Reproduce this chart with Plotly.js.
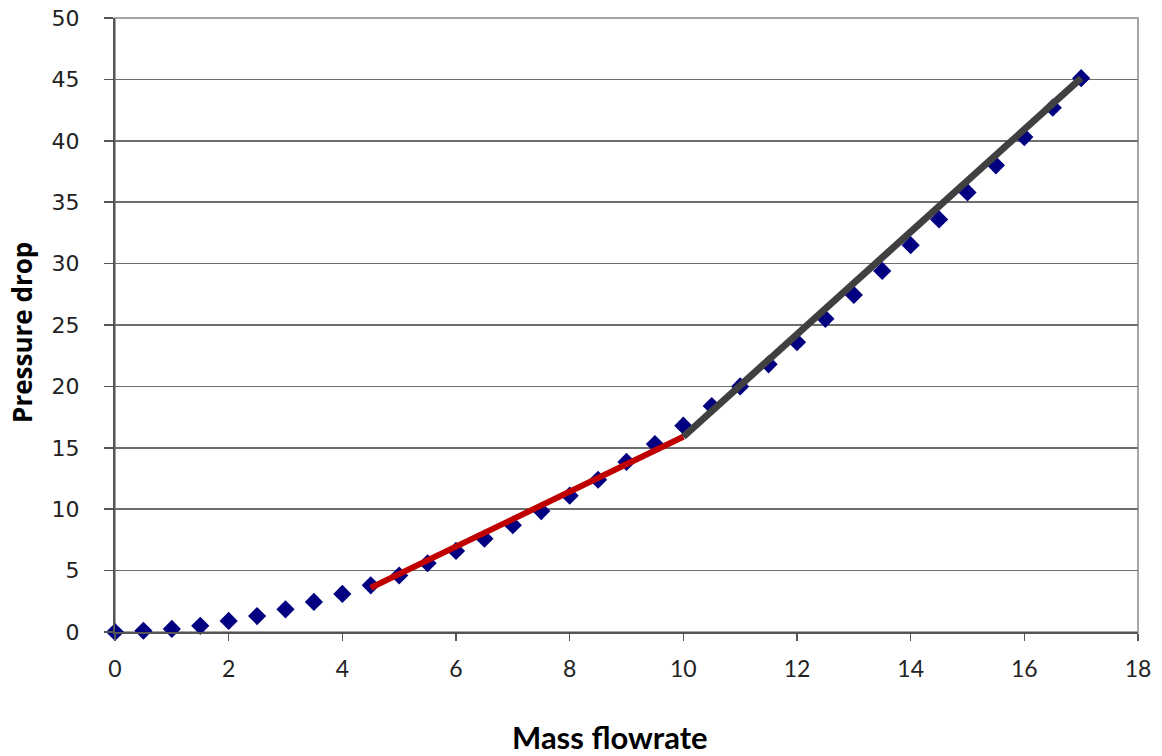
<!DOCTYPE html>
<html>
<head>
<meta charset="utf-8">
<script src="https://cdn.plot.ly/plotly-3.0.1.min.js"></script>
<style>html,body{margin:0;padding:0;background:#fff;}#chart{width:1162px;height:756px;}</style>
</head>
<body>
<div id="chart"></div>
<script>
const massFlow = [0,0.5,1,1.5,2,2.5,3,3.5,4,4.5,5,5.5,6,6.5,7,7.5,8,8.5,9,9.5,10,10.5,11,11.5,12,12.5,13,13.5,14,14.5,15,15.5,16,16.5,17];
const pressureDrop = [0,0.1,0.25,0.5,0.9,1.3,1.85,2.45,3.1,3.8,4.6,5.6,6.6,7.6,8.7,9.85,11.1,12.4,13.85,15.3,16.8,18.4,20.0,21.8,23.6,25.5,27.45,29.4,31.5,33.6,35.8,38.0,40.3,42.7,45.1];
const fitLowX = [4.5, 10];
const fitLowY = [3.6, 15.9];
const fitHighX = [10, 17];
const fitHighY = [15.9, 45.1];
const xTicks = [0,2,4,6,8,10,12,14,16,18];
const yTicks = [0,5,10,15,20,25,30,35,40,45,50];
const xTitle = 'Mass flowrate';
const yTitle = 'Pressure drop';

const traces = [
  {x: massFlow, y: pressureDrop, type: 'scatter', mode: 'markers',
   marker: {symbol: 'diamond', size: 14, color: '#000080'}, cliponaxis: false, showlegend: false},
  {x: fitLowX, y: fitLowY, type: 'scatter', mode: 'lines',
   line: {color: '#C00000', width: 6}, showlegend: false},
  {x: fitHighX, y: fitHighY, type: 'scatter', mode: 'lines',
   line: {color: '#404040', width: 7}, showlegend: false}
];

const layout = {
  width: 1162, height: 756,
  margin: {l: 115, r: 24, t: 18, b: 124},
  paper_bgcolor: '#fff', plot_bgcolor: '#fff',
  xaxis: {
    range: [0, 18], tickvals: xTicks, ticktext: xTicks.map(String),
    showgrid: false, zeroline: false, showline: true, linecolor: '#555', linewidth: 2,
    ticks: 'outside', ticklen: 7, tickcolor: '#555', tickwidth: 1.5,
    ticklabelstandoff: 8,
    tickfont: {family: 'Lato, sans-serif', size: 23, color: '#222'}
  },
  yaxis: {
    range: [0, 50], tickvals: yTicks, ticktext: yTicks.map(String),
    showgrid: true, gridcolor: '#6e6e6e', gridwidth: 1.5, zeroline: false,
    showline: true, linecolor: '#555', linewidth: 2,
    ticks: 'outside', ticklen: 9, tickcolor: '#555', tickwidth: 1.5,
    ticklabelstandoff: 20,
    tickfont: {family: 'DejaVu Sans, sans-serif', size: 22, color: '#222'}
  },
  annotations: [
    {text: xTitle, xref: 'paper', yref: 'paper', x: 0.484, y: -0.171,
     xanchor: 'center', yanchor: 'middle', showarrow: false,
     font: {family: 'Lato, sans-serif', size: 31, color: '#000', weight: 'bold'}},
    {text: yTitle, xref: 'paper', yref: 'paper', x: -0.091, y: 0.4886,
     xanchor: 'center', yanchor: 'middle', showarrow: false, textangle: -90,
     font: {family: 'Open Sans, sans-serif', size: 26, color: '#000', weight: 'bold'}}
  ],
  shapes: [
    {type: 'rect', xref: 'paper', yref: 'paper', x0: 0, x1: 1, y0: 0, y1: 1,
     line: {color: '#a6a6a6', width: 2}, layer: 'below'}
  ]
};

Plotly.newPlot('chart', traces, layout, {displayModeBar: false, staticPlot: true});
</script>
</body>
</html>
